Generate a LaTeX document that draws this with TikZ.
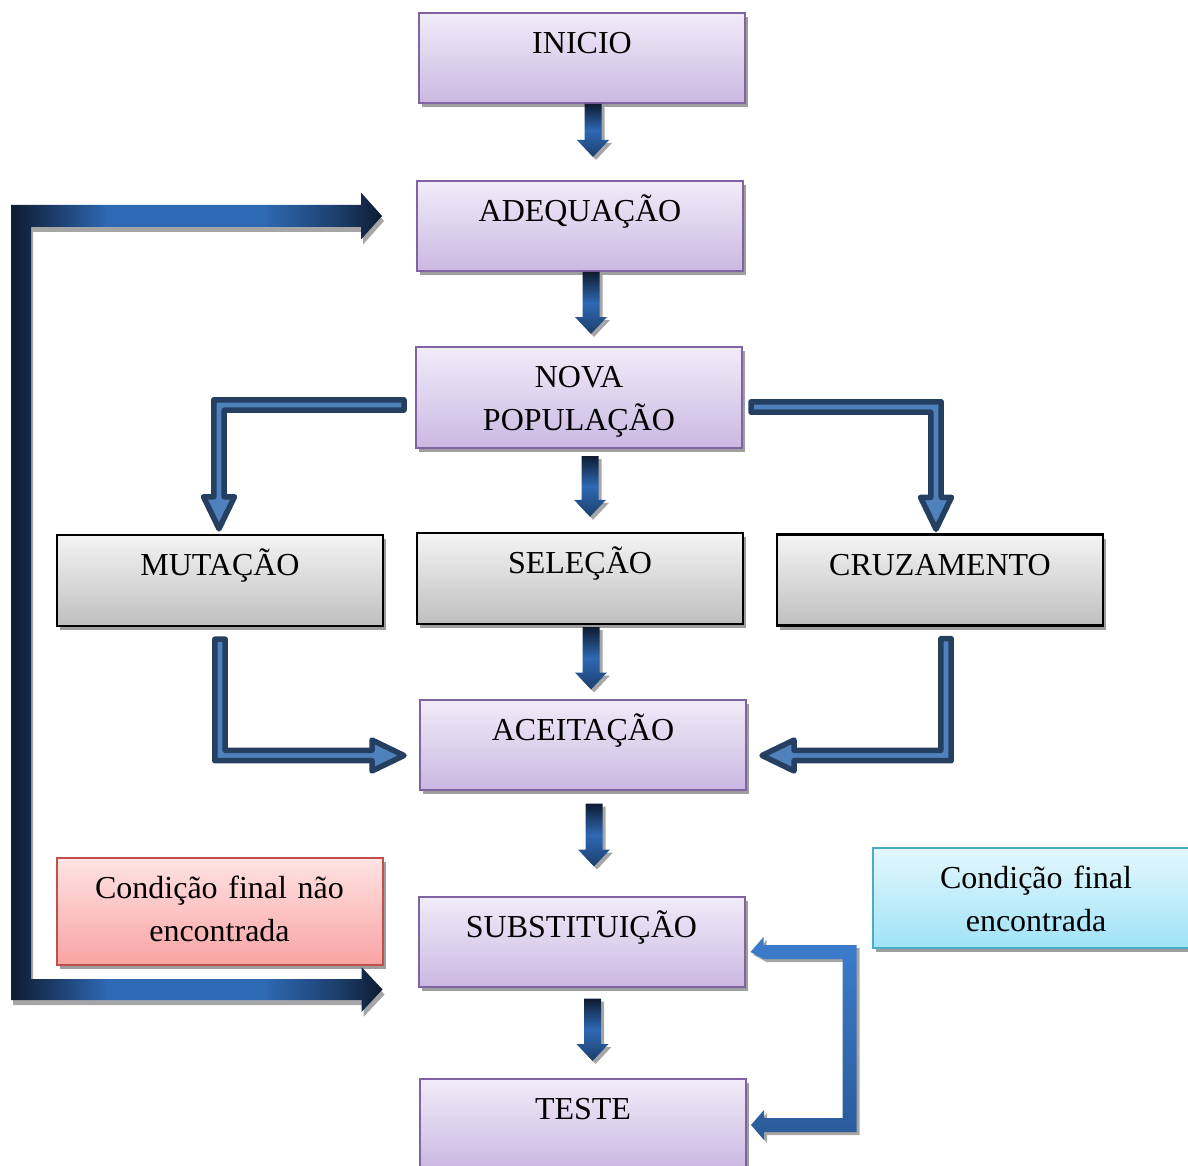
\documentclass[tikz,border=0pt]{standalone}
\usepackage{fontspec}
\setmainfont{Liberation Serif}
\usetikzlibrary{calc,shadows}
\definecolor{stageline}{HTML}{8064A2}
\definecolor{stagetop}{HTML}{F1ECF8}
\definecolor{stagebot}{HTML}{CBB8E2}
\definecolor{optop}{HTML}{F4F4F4}
\definecolor{opbot}{HTML}{BFBFBF}
\definecolor{noline}{HTML}{C0504D}
\definecolor{notop}{HTML}{FFE3E3}
\definecolor{nobot}{HTML}{F9A3A3}
\definecolor{okline}{HTML}{4BACC6}
\definecolor{oktop}{HTML}{E3F7FD}
\definecolor{okbot}{HTML}{A0E3F7}
\definecolor{sdark}{HTML}{0E1B31}
\definecolor{sblue}{HTML}{2E69B3}
\definecolor{bendfill}{HTML}{4F81BD}
\definecolor{bendline}{HTML}{243F60}
\definecolor{loopt}{HTML}{3C7DCC}
\definecolor{loopb}{HTML}{2A5A98}
\pgfdeclarehorizontalshading{loopshade}{100bp}{color(0bp)=(sdark); color(25bp)=(sdark);
  color(31bp)=(sdark!55!sblue); color(38bp)=(sblue); color(59bp)=(sblue);
  color(69bp)=(sdark!55!sblue); color(75bp)=(sdark); color(100bp)=(sdark)}
\tikzset{
  boxshadow/.style={drop shadow={shadow xshift=1.5pt,shadow yshift=-2pt,fill=black!38,opacity=1}},
  stage/.style={draw=stageline,line width=1pt,top color=stagetop,bottom color=stagebot,
    text width=163pt,align=center,inner sep=0pt,text height=20.25pt,text depth=24.75pt,
    font=\fontsize{16pt}{21.5pt}\selectfont,boxshadow},
  op/.style={stage,draw=black,line width=1.2pt,top color=optop,bottom color=opbot,text depth=25.25pt},
  naofim/.style={stage,draw=noline,top color=notop,bottom color=nobot,text depth=33.25pt},
  fim/.style={stage,draw=okline,top color=oktop,bottom color=okbot,text depth=29.75pt},
  sdarrow/.style={top color=sdark,bottom color=sdark!55!sblue,middle color=sblue,
    drop shadow={shadow xshift=1.5pt,shadow yshift=-1.5pt,fill=black!35,opacity=1}},
  elbowarrow/.style={fill=bendfill,draw=bendline,line width=2.75pt,line join=round},
  backloop/.style={shading=loopshade,
    drop shadow={shadow xshift=1pt,shadow yshift=-2.5pt,fill=black!35,opacity=1}},
  okloop/.style={top color=loopt,bottom color=loopb,
    drop shadow={shadow xshift=1.5pt,shadow yshift=-1.5pt,fill=black!35,opacity=1}}
}
% small block arrow sizes
\newcommand{\sxo}{5.5pt}
\newcommand{\sw}{4.25pt}
\newcommand{\sh}{8pt}
\newcommand{\shl}{8.5pt}
% elbow arrow sizes
\newcommand{\ewid}{2.6pt}
\newcommand{\ehead}{7.75pt}
\newcommand{\elen}{16pt}
% #1 from, #2 to, #3 gap under #1, #4 gap over #2
\newcommand{\sdown}[4]{%
  \path[sdarrow] let \p1=(#1.south), \p2=(#2.north) in
    ({\x1+\sxo-\sw},{\y1-#3}) -- ({\x1+\sxo+\sw},{\y1-#3})
    -- ({\x1+\sxo+\sw},{\y2+#4+\shl}) -- ({\x1+\sxo+\sh},{\y2+#4+\shl})
    -- ({\x1+\sxo},{\y2+#4}) -- ({\x1+\sxo-\sh},{\y2+#4+\shl})
    -- ({\x1+\sxo-\sw},{\y2+#4+\shl}) -- cycle;}
% horizontal first, then vertical
\newcommand{\elbowhv}[2]{%
  \path[elbowarrow] let \p1=(#1), \p2=(#2),
    \n1={\x2>\x1 ? 1 : -1}, \n2={\y2>\y1 ? 1 : -1} in
    ({\x1},{\y1-(\n2)*\ewid}) -- ({\x2+(\n1)*\ewid},{\y1-(\n2)*\ewid})
    -- ({\x2+(\n1)*\ewid},{\y2-(\n2)*\elen}) -- ({\x2+(\n1)*\ehead},{\y2-(\n2)*\elen})
    -- (\x2,\y2) -- ({\x2-(\n1)*\ehead},{\y2-(\n2)*\elen})
    -- ({\x2-(\n1)*\ewid},{\y2-(\n2)*\elen}) -- ({\x2-(\n1)*\ewid},{\y1+(\n2)*\ewid})
    -- ({\x1},{\y1+(\n2)*\ewid}) -- cycle;}
% vertical first, then horizontal
\newcommand{\elbowvh}[2]{%
  \path[elbowarrow] let \p1=(#1), \p2=(#2),
    \n1={\x2>\x1 ? 1 : -1}, \n2={\y2>\y1 ? 1 : -1} in
    ({\x1-(\n1)*\ewid},{\y1}) -- ({\x1-(\n1)*\ewid},{\y2+(\n2)*\ewid})
    -- ({\x2-(\n1)*\elen},{\y2+(\n2)*\ewid}) -- ({\x2-(\n1)*\elen},{\y2+(\n2)*\ehead})
    -- (\x2,\y2) -- ({\x2-(\n1)*\elen},{\y2-(\n2)*\ehead})
    -- ({\x2-(\n1)*\elen},{\y2-(\n2)*\ewid}) -- ({\x1+(\n1)*\ewid},{\y2-(\n2)*\ewid})
    -- ({\x1+(\n1)*\ewid},{\y1}) -- cycle;}

\begin{document}
\begin{tikzpicture}[x=0.5pt,y=-0.5pt]
  \useasboundingbox (0,0) rectangle (1188,1166);
  % boxes
  \node[stage] (inicio) at (582,58) {INICIO};
  \node[stage] (adeq) at (580,226) {ADEQUAÇÃO};
  \node[stage,text depth=30.25pt] (nova) at (579,397.5) {NOVA\\POPULAÇÃO};
  \node[op] (mut) at (220,580.5) {MUTAÇÃO};
  \node[op] (sel) at (580,578.5) {SELEÇÃO};
  \node[op] (cruz) at (940,580) {CRUZAMENTO};
  \node[stage] (aceit) at (583,744.5) {ACEITAÇÃO};
  \node[stage] (subst) at (581.5,941.5) {SUBSTITUIÇÃO};
  \node[stage] (teste) at (583,1124) {TESTE};
  \node[naofim] (nao) at (219.5,911.5) {Condição final não\\encontrada};
  \node[fim] (ok) at (1036,898) {Condição final\\encontrada};
  % straight arrows
  \sdown{inicio}{adeq}{0pt}{11.5pt}
  \sdown{adeq}{nova}{0pt}{6pt}
  \sdown{nova}{sel}{3.5pt}{7.5pt}
  \sdown{sel}{aceit}{1pt}{4.5pt}
  \sdown{aceit}{subst}{6.5pt}{14.5pt}
  \sdown{subst}{teste}{5.5pt}{8.5pt}
  % bent arrows
  \elbowhv{$(nova.west)+(-11,7.5)$}{$(mut.north)+(-1,-5)$}
  \elbowhv{$(nova.east)+(8,9.5)$}{$(cruz.north)+(-4,-4)$}
  \elbowvh{$(mut.south)+(0,12)$}{$(aceit.west)+(-15,11)$}
  \elbowvh{$(cruz.south)+(6,12)$}{$(aceit.east)+(15,11)$}
  % loop back to adequacao
  \coordinate (backA) at ($(adeq.west)+(-34,-10)$);
  \coordinate (backB) at ($(subst.west)+(-35,48)$);
  \path[backloop] let \p1=(backA), \p2=(backB) in
    (\x1,\y1) -- (\x1-10.5pt,\y1-11.75pt) -- (\x1-10.5pt,\y1-5.5pt)
    -- (\x1-175.5pt,\y1-5.5pt) -- (\x1-175.5pt,\y2+5.25pt) -- (\x2-10.5pt,\y2+5.25pt)
    -- (\x2-10.5pt,\y2+11.25pt) -- (\x2,\y2) -- (\x2-10.5pt,\y2-11.25pt)
    -- (\x2-10.5pt,\y2-5.25pt) -- (\x1-185.5pt,\y2-5.25pt) -- (\x1-185.5pt,\y1+5.5pt)
    -- (\x1-10.5pt,\y1+5.5pt) -- (\x1-10.5pt,\y1+11.75pt) -- cycle;
  % loop from teste
  \coordinate (okA) at ($(subst.east)+(5,10.5)$);
  \coordinate (okB) at ($(teste.east)+(4,1)$);
  \path[okloop] let \p1=(okA), \p2=(okB) in
    (\x1,\y1) -- (\x1+6.5pt,\y1+7.5pt) -- (\x1+6.5pt,\y1+3.5pt) -- (\x1+53pt,\y1+3.5pt)
    -- (\x1+53pt,\y2-3.5pt) -- (\x2+6.5pt,\y2-3.5pt) -- (\x2+6.5pt,\y2-7.5pt)
    -- (\x2,\y2) -- (\x2+6.5pt,\y2+7.5pt) -- (\x2+6.5pt,\y2+3.5pt)
    -- (\x1+46pt,\y2+3.5pt) -- (\x1+46pt,\y1-3.5pt) -- (\x1+6.5pt,\y1-3.5pt) -- cycle;
\end{tikzpicture}
\end{document}
